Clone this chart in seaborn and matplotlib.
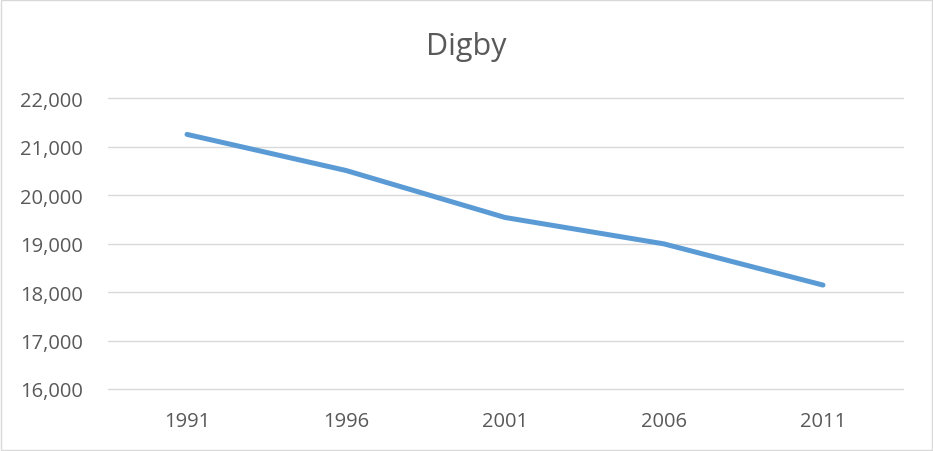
import matplotlib
matplotlib.use("Agg")
import matplotlib.pyplot as plt
import seaborn as sns
import pandas as pd
from matplotlib.patches import Rectangle
from matplotlib.ticker import FuncFormatter

years = ["1991", "1996", "2001", "2006", "2011"]
population = [21255, 20510, 19540, 18995, 18145]
title = "Digby"

sns.set_theme(style="white")
plt.rcParams['font.family'] = ['Open Sans', 'DejaVu Sans']

df = pd.DataFrame({"year": years, "population": population})

W, H = 933, 452
fig = plt.figure(figsize=(W / 100, H / 100), dpi=100)
ax = fig.add_axes([107.5 / W, 1 - 390 / H, (902.5 - 107.5) / W, (390 - 99.3) / H])

sns.lineplot(data=df, x="year", y="population", ax=ax, color="#5B9BD5",
             linewidth=3.6, solid_capstyle="round", sort=False)

ax.set_xlim(-0.5, len(years) - 0.5)
ax.set_ylim(16000, 22000)
ax.set_yticks(range(16000, 22001, 1000))
ax.yaxis.set_major_formatter(FuncFormatter(lambda v, p: f"{int(v):,}"))
ax.grid(axis="y", color="#D9D9D9", linewidth=1.0)
ax.grid(axis="x", visible=False)
for gl in ax.get_ygridlines():
    gl.set_clip_on(False)
ax.set_axisbelow(True)
for s in ax.spines.values():
    s.set_visible(False)
ax.set_xlabel("")
ax.set_ylabel("")
ax.tick_params(axis="y", length=0, pad=17.5, labelsize=14.5, labelcolor="#595959")
ax.tick_params(axis="x", length=0, pad=16, labelsize=14.5, labelcolor="#595959")

fig.text(0.5, 1 - 54.5 / H, title, ha="center", va="baseline", fontsize=22, color="#595959")

fig.add_artist(Rectangle((0.5 / W, 1.5 / H), (W - 2) / W, (H - 2.5) / H,
                         transform=fig.transFigure, fill=False, edgecolor="#D9D9D9", linewidth=1.0))

fig.savefig("out.png", dpi=100, facecolor="white")
